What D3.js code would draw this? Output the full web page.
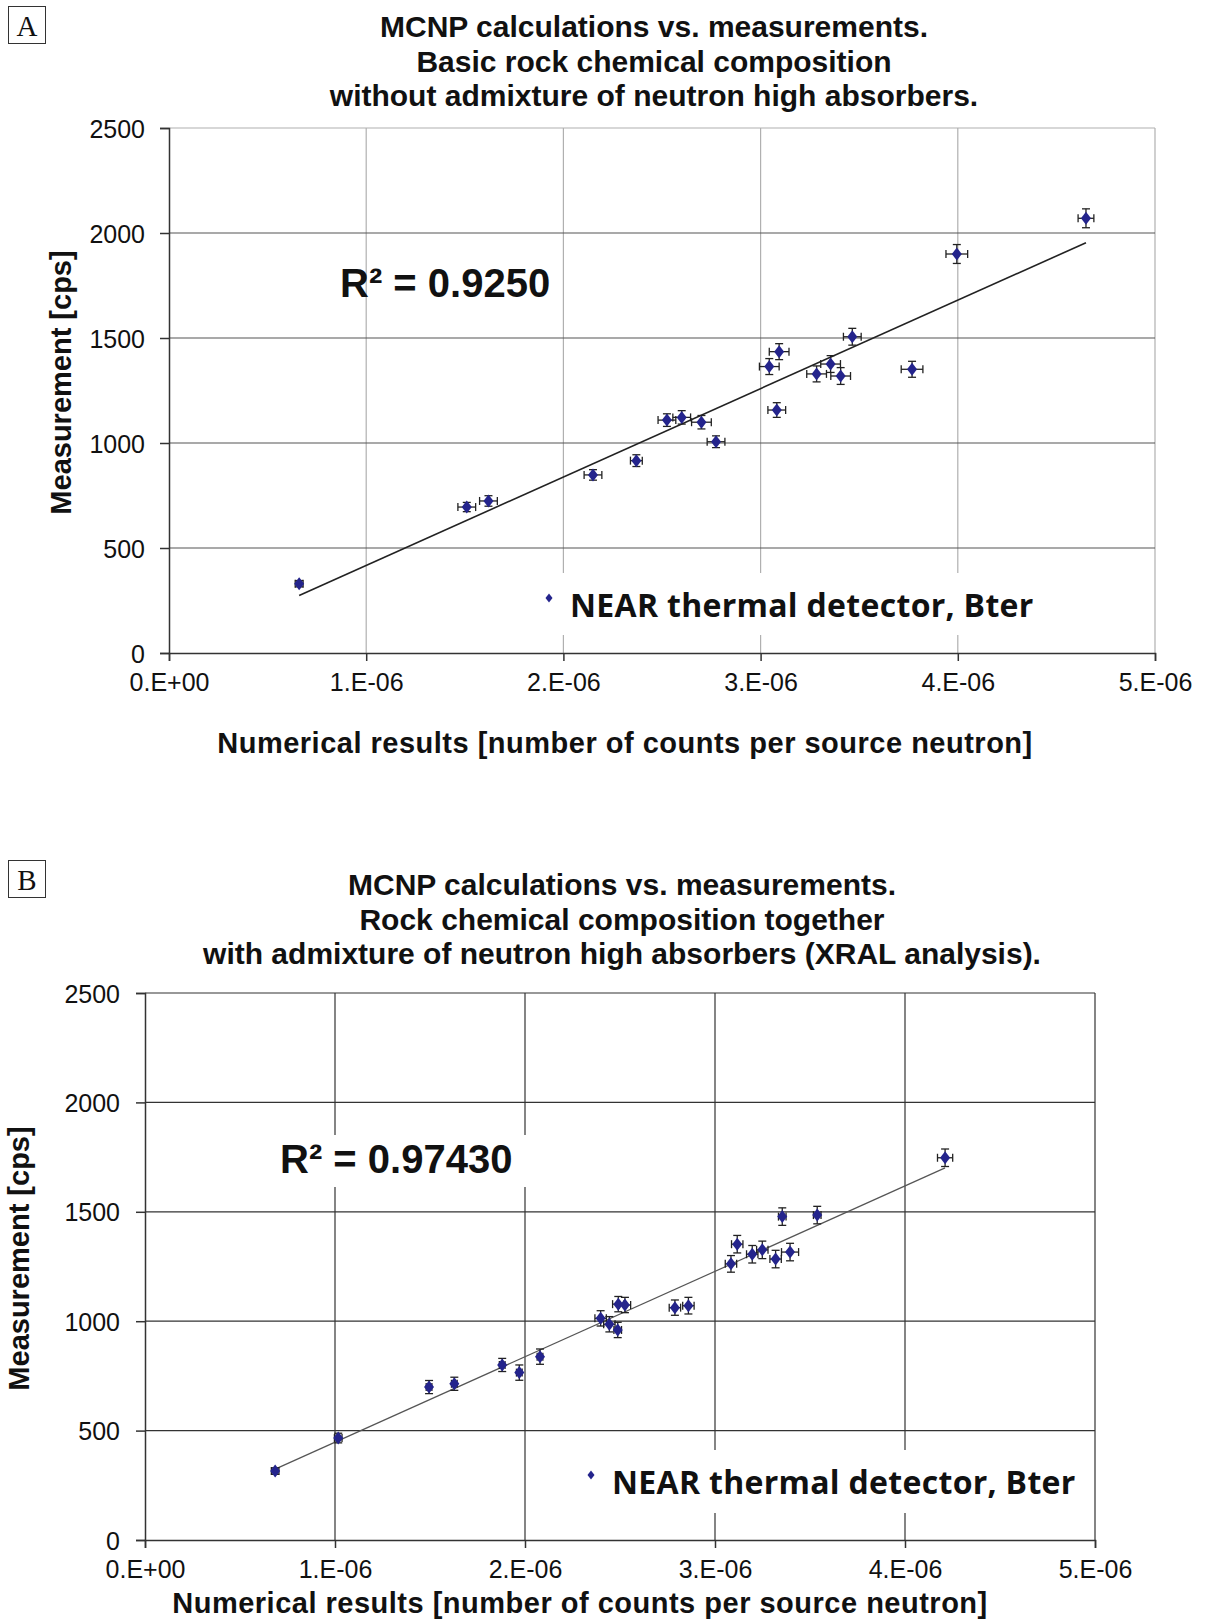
<!DOCTYPE html>
<html>
<head>
<meta charset="utf-8">
<script src="https://cdn.jsdelivr.net/npm/d3@7"></script>
<style>
  body { margin: 0; background: #fff; }
  svg { display: block; }
  text { font-family: "Liberation Sans", Arial, sans-serif; fill: #111; }
</style>
</head>
<body>
<div id="chart"></div>
<script>
// shared axes
const xTicks = [0, 1e-6, 2e-6, 3e-6, 4e-6, 5e-6];
const xTickLabels = ["0.E+00", "1.E-06", "2.E-06", "3.E-06", "4.E-06", "5.E-06"];
const yTicks = [0, 500, 1000, 1500, 2000, 2500];

// panel A - basic composition
const calcA = [0.66e-6, 1.51e-6, 1.62e-6, 2.15e-6, 2.37e-6, 2.525e-6, 2.60e-6, 2.70e-6, 2.774e-6, 3.044e-6,
               3.094e-6, 3.082e-6, 3.284e-6, 3.355e-6, 3.406e-6, 3.465e-6, 3.768e-6, 3.995e-6, 4.65e-6];
const measA = [330, 695, 724, 848, 916, 1109, 1122, 1099, 1006, 1364,
               1435, 1157, 1329, 1376, 1319, 1506, 1351, 1900, 2070];
const errCalcA = [0.02e-6, 0.045e-6, 0.045e-6, 0.045e-6, 0.03e-6, 0.045e-6, 0.045e-6, 0.05e-6, 0.045e-6, 0.05e-6,
                  0.05e-6, 0.045e-6, 0.05e-6, 0.05e-6, 0.05e-6, 0.045e-6, 0.055e-6, 0.055e-6, 0.04e-6];
const errMeasA = [15, 22, 25, 25, 28, 30, 32, 32, 28, 38,
                  38, 35, 38, 40, 40, 40, 38, 45, 45];
const fitA = [4.21e8, -4];   // slope, intercept
const titleA = ["MCNP calculations vs. measurements.",
                "Basic rock chemical composition",
                "without admixture of neutron high absorbers."];
const r2A = "R² = 0.9250";

// panel B - with XRAL absorbers
const calcB = [0.685e-6, 1.017e-6, 1.495e-6, 1.628e-6, 1.88e-6, 1.97e-6, 2.079e-6, 2.398e-6, 2.444e-6, 2.488e-6,
               2.491e-6, 2.526e-6, 2.789e-6, 2.86e-6, 3.084e-6, 3.117e-6, 3.196e-6, 3.249e-6, 3.319e-6, 3.395e-6,
               3.354e-6, 3.538e-6, 4.211e-6];
const measB = [315, 466, 699, 714, 800, 765, 838, 1013, 986, 960,
               1078, 1074, 1062, 1071, 1262, 1352, 1306, 1326, 1284, 1316,
               1478, 1485, 1747];
const errCalcB = [0.02e-6, 0.02e-6, 0.015e-6, 0.015e-6, 0.015e-6, 0.015e-6, 0.015e-6, 0.03e-6, 0.03e-6, 0.02e-6,
                  0.03e-6, 0.03e-6, 0.03e-6, 0.03e-6, 0.03e-6, 0.03e-6, 0.03e-6, 0.03e-6, 0.03e-6, 0.045e-6,
                  0.02e-6, 0.02e-6, 0.04e-6];
const errMeasB = [15, 22, 30, 30, 30, 35, 35, 35, 35, 35,
                  35, 35, 35, 38, 38, 40, 40, 40, 40, 40,
                  40, 40, 40];
const fitB = [3.904e8, 56.6];
const titleB = ["MCNP calculations vs. measurements.",
                "Rock chemical composition together",
                "with admixture of neutron high absorbers (XRAL analysis)."];
const r2B = "R² = 0.97430";

const legendLabel = "NEAR thermal detector, Bter";
const xTitle = "Numerical results [number of counts per source neutron]";
const yTitle = "Measurement [cps]";

const svg = d3.select("#chart").append("svg")
    .attr("width", 1208)
    .attr("height", 1620);

// diamond marker path
function diamond(w, h) {
    return `M0,${-h}L${w},0L0,${h}L${-w},0Z`;
}

function drawPanel(p) {
    const g = svg.append("g");
    const x = d3.scaleLinear().domain([0, 5e-6]).range([p.left, p.right]);
    const y = d3.scaleLinear().domain([0, 2500]).range([p.bottom, p.top]);

    // panel letter
    g.append("rect")
        .attr("x", 8.5).attr("y", p.letterY + 0.5)
        .attr("width", 37).attr("height", 37)
        .attr("fill", "none").attr("stroke", "#333").attr("stroke-width", 1);
    g.append("text")
        .attr("x", 27).attr("y", p.letterY + 30)
        .attr("text-anchor", "middle")
        .style("font-family", "'Liberation Serif', serif")
        .style("font-size", "29px")
        .text(p.letter);

    // title
    g.selectAll(".title")
        .data(p.title)
        .enter()
        .append("text")
        .attr("class", "title")
        .attr("x", p.titleX)
        .attr("y", (d, i) => p.titleY + i * 34.5)
        .attr("text-anchor", "middle")
        .style("font-size", "30px")
        .style("font-weight", "bold")
        .text(d => d);

    // grid
    g.selectAll(".vgrid")
        .data(xTicks.slice(1))
        .enter()
        .append("line")
        .attr("x1", d => x(d)).attr("x2", d => x(d))
        .attr("y1", y(2500)).attr("y2", y(0))
        .attr("stroke", p.vGridColor).attr("stroke-width", 1.2);
    g.selectAll(".hgrid")
        .data(yTicks.slice(1))
        .enter()
        .append("line")
        .attr("x1", x(0)).attr("x2", x(5e-6))
        .attr("y1", d => y(d)).attr("y2", d => y(d))
        .attr("stroke", d => d === 2500 ? p.vGridColor : p.hGridColor)
        .attr("stroke-width", 1.2);

    // axes
    const yAxis = g.append("g")
        .attr("transform", `translate(${p.left},0)`)
        .call(d3.axisLeft(y).tickValues(yTicks).tickSize(9).tickPadding(p.yPad)
            .tickFormat(d3.format("d")));
    const xAxis = g.append("g")
        .attr("transform", `translate(0,${p.bottom})`)
        .call(d3.axisBottom(x).tickValues(xTicks).tickSize(8).tickPadding(12)
            .tickFormat((d, i) => xTickLabels[i]));
    [yAxis, xAxis].forEach(a => {
        a.select(".domain").attr("stroke", "#333").attr("stroke-width", 1.5);
        a.selectAll(".tick line").attr("stroke", "#333").attr("stroke-width", 1.5);
        a.selectAll(".tick text")
            .style("font-size", "25px")
            .style("font-family", "'Liberation Sans', Arial, sans-serif")
            .attr("fill", "#222");
    });
    yAxis.selectAll(".tick text").attr("dy", "0.36em");

    // axis titles
    g.append("text")
        .attr("transform", `translate(${p.yTitleX},${(p.top + p.bottom) / 2 - 8}) rotate(-90)`)
        .attr("text-anchor", "middle")
        .style("font-size", "29px")
        .style("font-weight", "bold")
        .text(yTitle);
    g.append("text")
        .attr("x", p.xTitleX)
        .attr("y", p.xTitleY)
        .attr("text-anchor", "middle")
        .style("font-size", "29px")
        .style("font-weight", "bold")
        .style("letter-spacing", "0.5px")
        .text(xTitle);

    // legend box
    g.append("rect")
        .attr("x", p.legend.x).attr("y", p.legend.y)
        .attr("width", p.legend.w).attr("height", p.legend.h)
        .attr("fill", "#fff");
    g.append("path")
        .attr("d", diamond(3.5, 4.5))
        .attr("transform", `translate(${p.legend.x + 14},${p.legend.y + 25})`)
        .attr("fill", "#24248c");
    g.append("text")
        .attr("x", p.legend.x + 35)
        .attr("y", p.legend.y + 44)
        .style("font-family", "'Open Sans', Lato, sans-serif")
        .style("font-size", "32px")
        .style("font-weight", "bold")
        .style("letter-spacing", "0.3px")
        .text(legendLabel);

    // R squared
    if (p.r2Box) {
        g.append("rect")
            .attr("x", p.r2X - 8).attr("y", p.r2Y - 38)
            .attr("width", 260).attr("height", 52)
            .attr("fill", "#fff");
    }
    g.append("text")
        .attr("x", p.r2X)
        .attr("y", p.r2Y)
        .style("font-size", "40px")
        .style("font-weight", "bold")
        .text(p.r2);

    // trend line
    const ext = d3.extent(p.calc);
    g.append("line")
        .attr("x1", x(ext[0])).attr("y1", y(p.fit[0] * ext[0] + p.fit[1]))
        .attr("x2", x(ext[1])).attr("y2", y(p.fit[0] * ext[1] + p.fit[1]))
        .attr("stroke", p.fitColor).attr("stroke-width", p.fitWidth);

    const pts = p.calc.map((c, i) => ({ c: c, m: p.meas[i], ec: p.errCalc[i], em: p.errMeas[i] }));

    // error bars
    const eb = g.append("g").attr("stroke", "#222").attr("stroke-width", 1.3);
    pts.forEach(d => {
        const cx = x(d.c), cy = y(d.m);
        const x0 = x(d.c - d.ec), x1 = x(d.c + d.ec);
        const y0 = y(d.m - d.em), y1 = y(d.m + d.em);
        eb.append("line").attr("x1", x0).attr("x2", x1).attr("y1", cy).attr("y2", cy);
        eb.append("line").attr("x1", x0).attr("x2", x0).attr("y1", cy - 4).attr("y2", cy + 4);
        eb.append("line").attr("x1", x1).attr("x2", x1).attr("y1", cy - 4).attr("y2", cy + 4);
        eb.append("line").attr("x1", cx).attr("x2", cx).attr("y1", y0).attr("y2", y1);
        eb.append("line").attr("x1", cx - 4).attr("x2", cx + 4).attr("y1", y0).attr("y2", y0);
        eb.append("line").attr("x1", cx - 4).attr("x2", cx + 4).attr("y1", y1).attr("y2", y1);
    });

    // markers
    g.selectAll(".pt")
        .data(pts)
        .enter()
        .append("path")
        .attr("class", "pt")
        .attr("d", diamond(5, 6.5))
        .attr("transform", d => `translate(${x(d.c)},${y(d.m)})`)
        .attr("fill", "#24248c");
}

drawPanel({
    letter: "A", letterY: 6, title: titleA, titleX: 654, titleY: 37,
    left: 169, right: 1155, top: 128, bottom: 653, yPad: 15,
    vGridColor: "#b0b0b0", hGridColor: "#555",
    yTitleX: 71, xTitleX: 625, xTitleY: 753,
    legend: { x: 535, y: 573, w: 615, h: 62 },
    r2: r2A, r2X: 340, r2Y: 297, r2Box: false,
    calc: calcA, meas: measA, errCalc: errCalcA, errMeas: errMeasA,
    fit: fitA, fitColor: "#222", fitWidth: 1.6
});

drawPanel({
    letter: "B", letterY: 860, title: titleB, titleX: 622, titleY: 895,
    left: 145, right: 1095, top: 993, bottom: 1540, yPad: 16,
    vGridColor: "#333", hGridColor: "#333",
    yTitleX: 29, xTitleX: 580, xTitleY: 1613,
    legend: { x: 577, y: 1450, w: 515, h: 63 },
    r2: r2B, r2X: 280, r2Y: 1173, r2Box: true,
    calc: calcB, meas: measB, errCalc: errCalcB, errMeas: errMeasB,
    fit: fitB, fitColor: "#555", fitWidth: 1.2
});
</script>
</body>
</html>
